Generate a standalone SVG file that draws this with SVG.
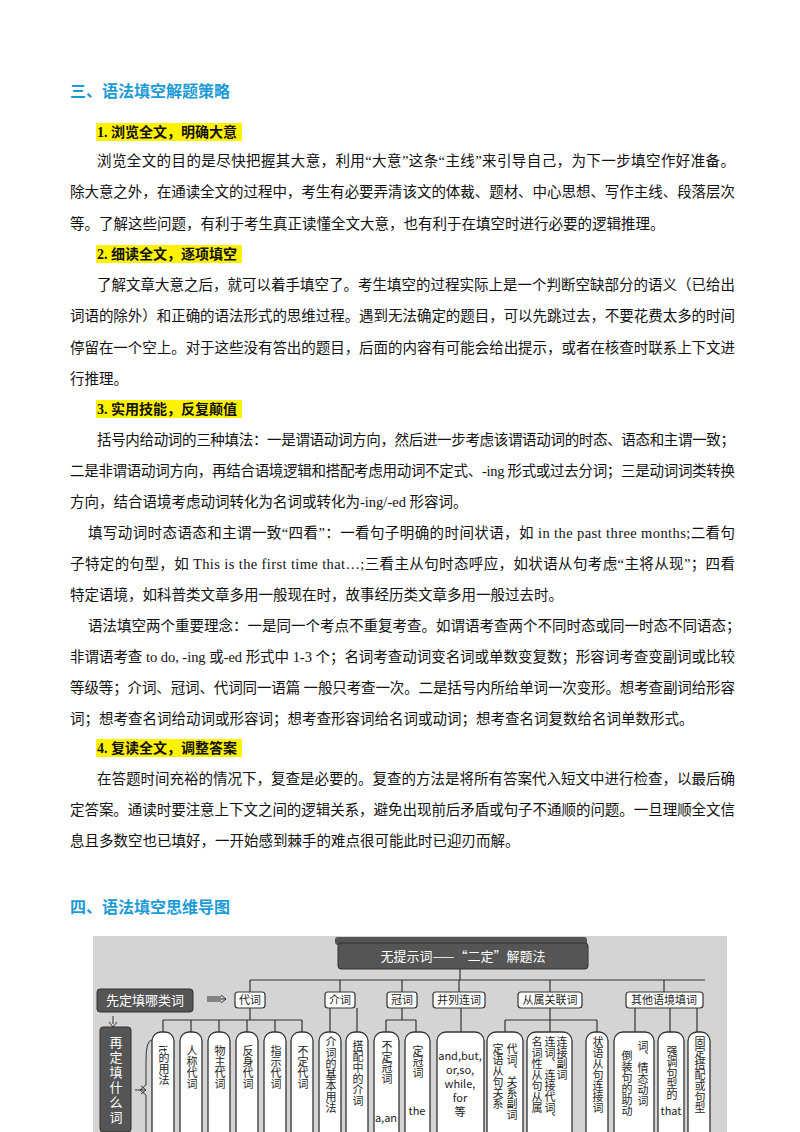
<svg xmlns="http://www.w3.org/2000/svg" width="800" height="1132" viewBox="0 0 800 1132">
<style>
.t{font-family:"Liberation Serif","Noto Sans CJK SC",serif;font-size:14.5px;fill:#111}
.h{font-family:"Noto Sans CJK SC",sans-serif;font-size:16px;font-weight:bold;fill:#1a9bd7}
.s{font-family:"Liberation Serif","Noto Sans CJK SC",serif;font-size:14px;font-weight:bold;fill:#111}
.hl{fill:#fff200}
.ln{stroke:#333;stroke-width:1.2;fill:none}
.cat{fill:#fff;stroke:#333;stroke-width:1.2}
.ct{font-family:"Noto Sans CJK SC",serif;font-size:11px;fill:#222;text-anchor:middle}
.lf{fill:#fff;stroke:#333;stroke-width:1.3}
.vt{font-family:"Noto Sans CJK SC",serif;font-size:11px;fill:#222;writing-mode:vertical-rl}
.dk{fill:#555;stroke:#333}
.wt{font-family:"Noto Sans CJK SC",sans-serif;fill:#fff;font-size:13px}
</style>
<text class="h" x="70" y="97">三、语法填空解题策略</text>
<rect class="hl" x="96" y="123" width="146" height="18"/>
<text class="s" x="97" y="137">1. 浏览全文，明确大意</text>
<text class="t" x="97" y="166" textLength="638" lengthAdjust="spacing">浏览全文的目的是尽快把握其大意，利用“大意”这条“主线”来引导自己，为下一步填空作好准备。</text>
<text class="t" x="70" y="197" textLength="665" lengthAdjust="spacing">除大意之外，在通读全文的过程中，考生有必要弄清该文的体裁、题材、中心思想、写作主线、段落层次</text>
<text class="t" x="70" y="229">等。了解这些问题，有利于考生真正读懂全文大意，也有利于在填空时进行必要的逻辑推理。</text>
<rect class="hl" x="96" y="245" width="146" height="18"/>
<text class="s" x="97" y="259">2. 细读全文，逐项填空</text>
<text class="t" x="97" y="290" textLength="638" lengthAdjust="spacing">了解文章大意之后，就可以着手填空了。考生填空的过程实际上是一个判断空缺部分的语义（已给出</text>
<text class="t" x="70" y="321" textLength="665" lengthAdjust="spacing">词语的除外）和正确的语法形式的思维过程。遇到无法确定的题目，可以先跳过去，不要花费太多的时间</text>
<text class="t" x="70" y="353" textLength="665" lengthAdjust="spacing">停留在一个空上。对于这些没有答出的题目，后面的内容有可能会给出提示，或者在核查时联系上下文进</text>
<text class="t" x="70" y="384">行推理。</text>
<rect class="hl" x="96" y="400" width="146" height="18"/>
<text class="s" x="97" y="414">3. 实用技能，反复颠值</text>
<text class="t" x="97" y="445" textLength="638" lengthAdjust="spacing">括号内给动词的三种填法：一是谓语动词方向，然后进一步考虑该谓语动词的时态、语态和主谓一致；</text>
<text class="t" x="70" y="476" textLength="665" lengthAdjust="spacing">二是非谓语动词方向，再结合语境逻辑和搭配考虑用动词不定式、-ing 形式或过去分词；三是动词词类转换</text>
<text class="t" x="70" y="507">方向，结合语境考虑动词转化为名词或转化为-ing/-ed 形容词。</text>
<text class="t" x="88" y="538" textLength="647" lengthAdjust="spacing">填写动词时态语态和主谓一致“四看”：一看句子明确的时间状语，如 in the past three months;二看句</text>
<text class="t" x="70" y="569" textLength="665" lengthAdjust="spacing">子特定的句型，如 This is the first time that…;三看主从句时态呼应，如状语从句考虑“主将从现”；四看</text>
<text class="t" x="70" y="600">特定语境，如科普类文章多用一般现在时，故事经历类文章多用一般过去时。</text>
<text class="t" x="88" y="631">语法填空两个重要理念：一是同一个考点不重复考查。如谓语考查两个不同时态或同一时态不同语态；</text>
<text class="t" x="70" y="662" textLength="665" lengthAdjust="spacing">非谓语考查 to do, -ing 或-ed 形式中 1-3 个；名词考查动词变名词或单数变复数；形容词考查变副词或比较</text>
<text class="t" x="70" y="693" textLength="665" lengthAdjust="spacing">等级等；介词、冠词、代词同一语篇 一般只考查一次。二是括号内所给单词一次变形。想考查副词给形容</text>
<text class="t" x="70" y="724">词；想考查名词给动词或形容词；想考查形容词给名词或动词；想考查名词复数给名词单数形式。</text>
<rect class="hl" x="96" y="739" width="146" height="18"/>
<text class="s" x="97" y="753">4. 复读全文，调整答案</text>
<text class="t" x="97" y="784" textLength="638" lengthAdjust="spacing">在答题时间充裕的情况下，复查是必要的。复查的方法是将所有答案代入短文中进行检查，以最后确</text>
<text class="t" x="70" y="815" textLength="665" lengthAdjust="spacing">定答案。通读时要注意上下文之间的逻辑关系，避免出现前后矛盾或句子不通顺的问题。一旦理顺全文信</text>
<text class="t" x="70" y="846">息且多数空也已填好，一开始感到棘手的难点很可能此时已迎刃而解。</text>
<text class="h" x="70" y="913">四、语法填空思维导图</text>

<g id="map-bg"><rect x="93" y="936" width="634" height="196" fill="#d4d4d4"/><rect x="335" y="937" width="252" height="8" rx="3" fill="#555"/></g>
<g id="connectors" class="ln">
<path d="M460 968V980M250 980H705M250 980V992M340 980V992M402 980V992M459 980V992M550 980V992M664 980V992"/>
<path d="M250 1008V1020M163 1020H302M163 1020V1032M191 1020V1032M219 1020V1032M247 1020V1032M275 1020V1032M302 1020V1032"/>
<path d="M330 1008V1032M357 1008V1032M402 1008V1020M386 1020H416M386 1020V1032M416 1020V1032M461 1008V1032"/>
<path d="M550 1008V1020M505 1020H597M505 1020V1032M550 1020V1032M597 1020V1032M635 1008V1032M670 1008V1032M697 1008V1032"/>
<path d="M207 999H226M221 995L226 999L221 1003M207 997h14M207 1001h14" stroke-width="1"/>
<path d="M113 1016V1024M109 1022L113 1027L117 1022" stroke-width="1"/>
<path d="M135 1090H145M141 1086L146 1090L141 1094" stroke-width="1"/>
<path d="M152 1040Q146 1040 146 1060V1085L140 1090L146 1095V1132" stroke-width="1"/>
</g>
<g id="title"><rect class="dk" x="338" y="943" width="250" height="26" rx="3"/><text class="wt" x="463" y="961" font-size="15" text-anchor="middle">无提示词——“二定”解题法</text></g>
<g id="n-left1"><rect class="dk" x="97" y="989" width="96" height="23" rx="3"/><text class="wt" x="145" y="1005" text-anchor="middle">先定填哪类词</text></g>
<g id="n-left2"><rect class="dk" x="100" y="1027" width="31" height="105" rx="3"/><text class="wt" x="116" y="1036" style="writing-mode:vertical-rl" font-size="14" letter-spacing="2">再定填什么词</text></g>
<g id="c1"><rect class="cat" x="235" y="992" width="30" height="16" rx="3"/><text class="ct" x="250" y="1004">代词</text></g>
<g id="c2"><rect class="cat" x="325" y="992" width="30" height="16" rx="3"/><text class="ct" x="340" y="1004">介词</text></g>
<g id="c3"><rect class="cat" x="387" y="992" width="30" height="16" rx="3"/><text class="ct" x="402" y="1004">冠词</text></g>
<g id="c4"><rect class="cat" x="433" y="992" width="52" height="16" rx="3"/><text class="ct" x="459" y="1004">并列连词</text></g>
<g id="c5"><rect class="cat" x="518" y="992" width="64" height="16" rx="3"/><text class="ct" x="550" y="1004">从属关联词</text></g>
<g id="c6"><rect class="cat" x="626" y="992" width="77" height="16" rx="3"/><text class="ct" x="664" y="1004">其他语境填词</text></g>
<g id="l1"><rect class="lf" x="152" y="1032" width="22" height="110" rx="9"/><text class="vt" x="164" y="1045">it的用法</text></g>
<g id="l2"><rect class="lf" x="180" y="1032" width="22" height="110" rx="9"/><text class="vt" x="192" y="1045">人称代词</text></g>
<g id="l3"><rect class="lf" x="208" y="1032" width="22" height="110" rx="9"/><text class="vt" x="220" y="1045">物主代词</text></g>
<g id="l4"><rect class="lf" x="236" y="1032" width="22" height="110" rx="9"/><text class="vt" x="248" y="1045">反身代词</text></g>
<g id="l5"><rect class="lf" x="264" y="1032" width="22" height="110" rx="9"/><text class="vt" x="276" y="1045">指示代词</text></g>
<g id="l6"><rect class="lf" x="291" y="1032" width="22" height="110" rx="9"/><text class="vt" x="303" y="1045">不定代词</text></g>
<g id="l7"><rect class="lf" x="319" y="1032" width="22" height="110" rx="9"/><text class="vt" x="331" y="1036">介词的基本用法</text></g>
<g id="l8"><rect class="lf" x="346" y="1032" width="22" height="110" rx="9"/><text class="vt" x="358" y="1040">搭配中的介词</text></g>
<g id="l9"><rect class="lf" x="374" y="1032" width="25" height="110" rx="9"/><text class="vt" x="387" y="1040">不定冠词</text><text class="ct" x="386" y="1122" font-size="8">a,an</text></g>
<g id="l10"><rect class="lf" x="405" y="1032" width="25" height="110" rx="9"/><text class="vt" x="418" y="1045">定冠词</text><text class="ct" x="417" y="1115" font-size="9">the</text></g>
<g id="l11"><rect class="lf" x="437" y="1032" width="47" height="110" rx="9"/><text class="ct" x="460" y="1060" font-size="7">and,but,</text><text class="ct" x="460" y="1074" font-size="7">or,so,</text><text class="ct" x="460" y="1088" font-size="7">while,</text><text class="ct" x="460" y="1102" font-size="7">for</text><text class="ct" x="460" y="1116" font-size="10">等</text></g>
<g id="l12"><rect class="lf" x="487" y="1032" width="36" height="110" rx="9"/><text class="vt" x="512" y="1043" font-size="10">代词、关系副词</text><text class="vt" x="498" y="1043" font-size="10">定语从句关系</text></g>
<g id="l13"><rect class="lf" x="527" y="1032" width="45" height="110" rx="9"/><text class="vt" x="562" y="1036" font-size="10">连接副词</text><text class="vt" x="550" y="1036" font-size="10">连词、连接代词、</text><text class="vt" x="537" y="1036" font-size="10">名词性从句从属</text></g>
<g id="l14"><rect class="lf" x="586" y="1032" width="22" height="110" rx="9"/><text class="vt" x="598" y="1036">状语从句连接词</text></g>
<g id="l15"><rect class="lf" x="614" y="1032" width="40" height="110" rx="9"/><text class="vt" x="643" y="1040">词、情态动词</text><text class="vt" x="627" y="1050">倒装句的助动</text></g>
<g id="l16"><rect class="lf" x="658" y="1032" width="26" height="110" rx="9"/><text class="vt" x="672" y="1045" font-size="10">强调句型的</text><text class="ct" x="671" y="1115" font-size="8">that</text></g>
<g id="l17"><rect class="lf" x="688" y="1032" width="22" height="110" rx="9"/><text class="vt" x="700" y="1036">固定搭配或句型</text></g>
</svg>
